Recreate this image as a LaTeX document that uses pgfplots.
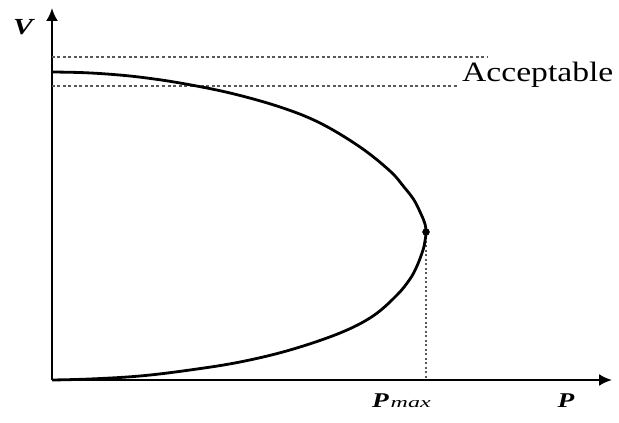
\documentclass[border=0pt]{standalone}
\usepackage{pgfplots}
\pgfplotsset{compat=1.18}
\usetikzlibrary{arrows.meta}
\usepackage{fontspec}
\setmainfont{Liberation Serif}

\begin{document}
\begin{tikzpicture}
\useasboundingbox (-52pt,-43pt) rectangle (567pt,380pt);
\begin{axis}[
  x=1pt, y=1pt,
  xmin=0, xmax=560, ymin=0, ymax=372,
  axis lines=left,
  axis line style={line width=2.2pt, -{Latex[length=13pt,width=12pt]}},
  xtick=\empty, ytick=\empty,
  clip=false,
]
% acceptable voltage band
\addplot[black!65, line width=1.5pt, dash pattern=on 3pt off 2.5pt]
  coordinates {(0,323) (435,323)};
\addplot[black!65, line width=1.5pt, dash pattern=on 3pt off 2.5pt]
  coordinates {(0,294) (405,294)};
% maximum transfer marker
\addplot[black!65, line width=1.5pt, dash pattern=on 2pt off 2.5pt]
  coordinates {(374,148) (374,0)};
% P-V nose curve
\addplot[black, line width=2.8pt, smooth, tension=0.6] coordinates {
  (0,308) (30,307.4) (60,305.6) (90,302.6) (128,297) (178,287) (228,273)
  (268,257) (308,233) (338,209) (352,193) (362,180) (369,166) (373,156)
  (374,148) (373,139) (371,130) (365,114) (358,101) (345,85) (321,64)
  (288,47) (238,30) (188,18) (138,10) (88,4) (38,1) (0,0)
};
\addplot[black, only marks, mark=*, mark size=3.5pt] coordinates {(374,148)};
\node[anchor=base west, inner sep=0pt] at (axis cs:410,298)
  {\fontsize{28}{30}\selectfont\scalebox{1.2}[1]{Acceptable}};
\node[anchor=center, inner sep=0pt] at (axis cs:-28,353)
  {\scalebox{1.3}[1]{\fontsize{23}{25}\selectfont\textit{\textbf{V}}}};
\node[anchor=base, inner sep=0pt] at (axis cs:514,-28)
  {\scalebox{1.3}[1]{\fontsize{21}{23}\selectfont\textit{\textbf{P}}}};
\node[anchor=base west, inner sep=0pt] at (axis cs:320,-28)
  {\scalebox{1.3}[1]{\fontsize{21}{23}\selectfont\textit{\textbf{P}}}\,\scalebox{1.6}[1]{\fontsize{15}{17}\selectfont\textit{max}}};
\end{axis}
\end{tikzpicture}
\end{document}
